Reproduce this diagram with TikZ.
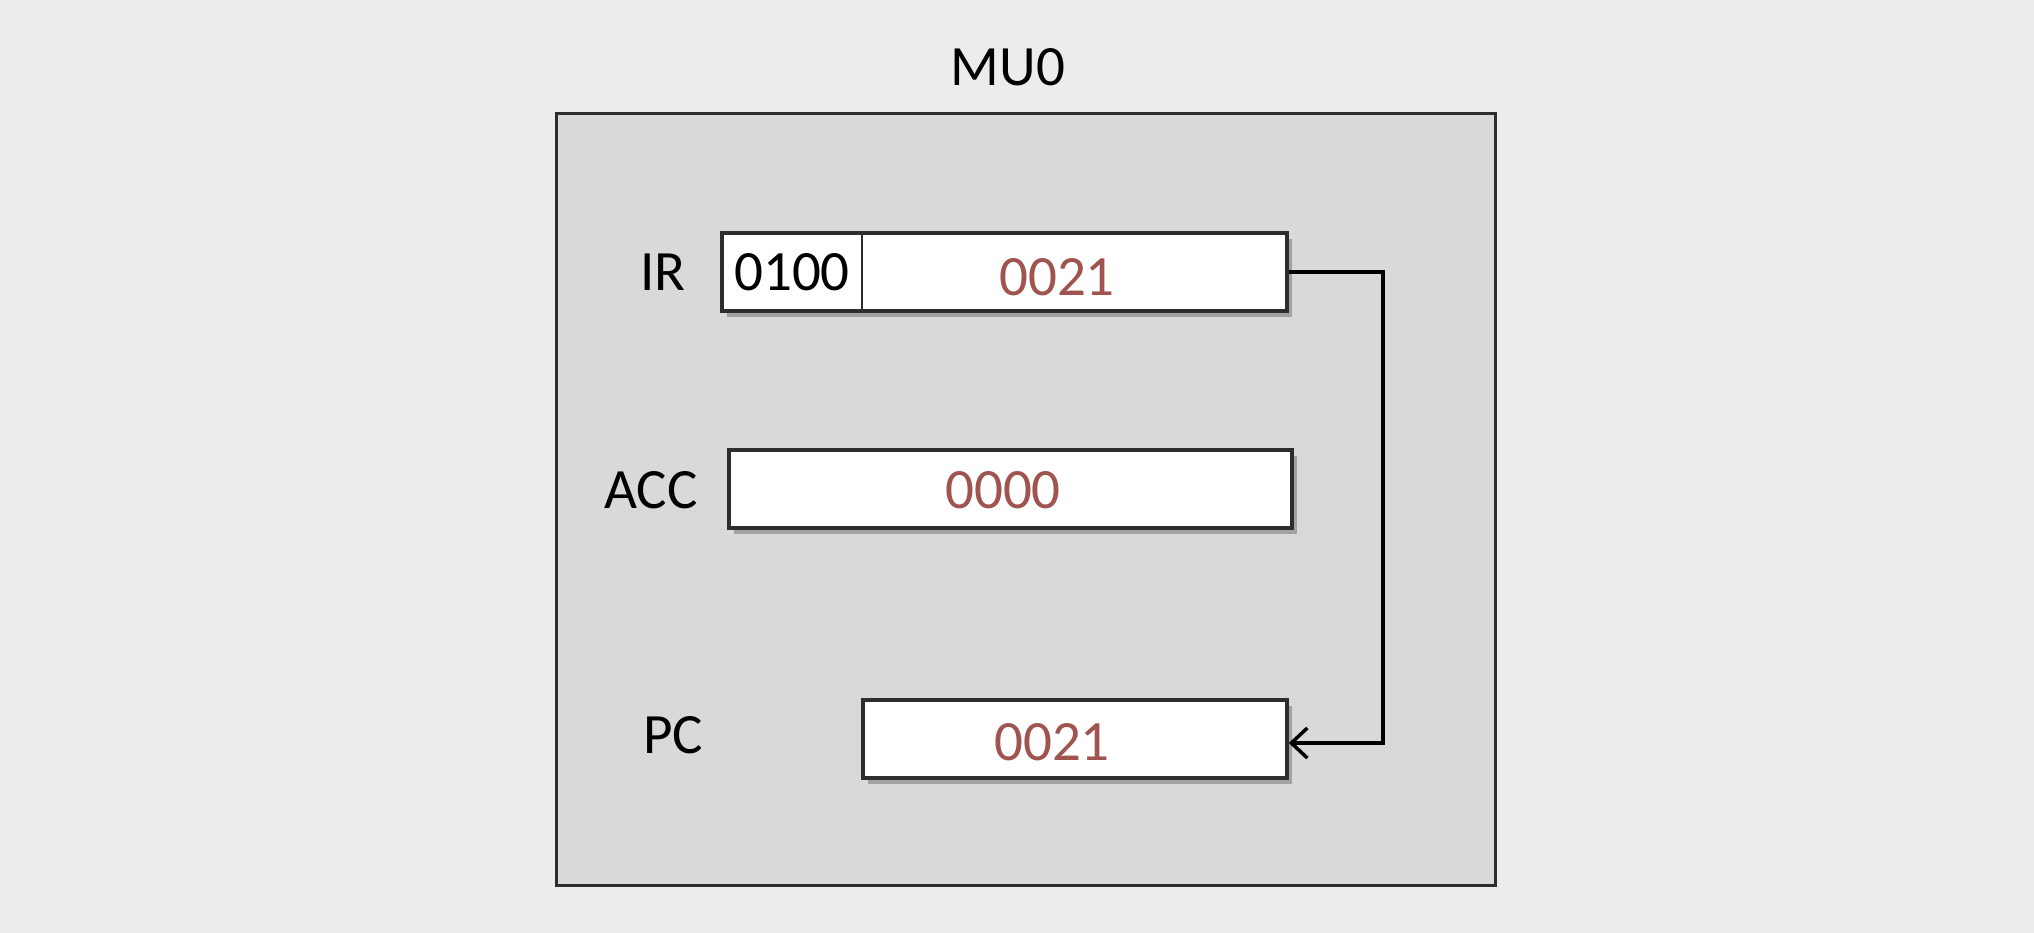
\documentclass[tikz,border=0pt]{standalone}
\usepackage{fontspec}
\setmainfont{Carlito}
\usetikzlibrary{shadows,arrows.meta}
\definecolor{bgc}{RGB}{234,236,238}
\definecolor{panel}{RGB}{217,217,217}
\definecolor{numc}{RGB}{160,84,80}
\definecolor{edgec}{RGB}{45,45,45}
\tikzset{
  regbox/.style={draw=edgec, line width=3.5pt, fill=white, minimum height=78pt, inner sep=0pt,
    drop shadow={shadow xshift=5pt, shadow yshift=-6pt, opacity=0.25, fill=black}},
  lbl/.style={font=\fontsize{57}{60}\selectfont, text=black, inner sep=0pt},
  val/.style={font=\fontsize{57}{60}\selectfont, text=numc, inner sep=0pt},
}
\begin{document}
\begin{tikzpicture}[x=1pt,y=-1pt]
\fill[bgc] (0,0) rectangle (2034,933);
\useasboundingbox (0,0) rectangle (2034,933);
% panel
\node[draw=edgec, line width=3pt, fill=panel, minimum width=939pt, minimum height=771pt, inner sep=0pt] (mu0box) at (1025.5,499.5) {};
\node[lbl] (mu0) at (1008,67) {MU0};
% IR
\node[regbox, minimum width=565pt] (ir) at (1004.5,272) {};
\draw[edgec, line width=2pt] ([xshift=142pt]ir.north west) -- ([xshift=142pt]ir.south west);
\node[lbl] (irop) at (792,272) {0100};
\node[val] (irval) at (1057,277) {0021};
\node[lbl] (irl) at (663,272) {IR};
% ACC
\node[regbox, minimum width=563pt] (acc) at (1010.5,489) {};
\node[val] (accval) at (1003,490) {0000};
\node[lbl] (accl) at (651,490) {ACC};
% PC
\node[regbox, minimum width=424pt] (pc) at (1075,739) {};
\node[val] (pcval) at (1052,742) {0021};
\node[lbl] (pcl) at (673,735) {PC};
% connector
\draw[black, line width=3.5pt, -{Straight Barb[length=16pt,width=30pt,line width=3.5pt]}] (ir.east) -- ++(94,0) |- ([yshift=-4pt]pc.east);
\end{tikzpicture}
\end{document}
